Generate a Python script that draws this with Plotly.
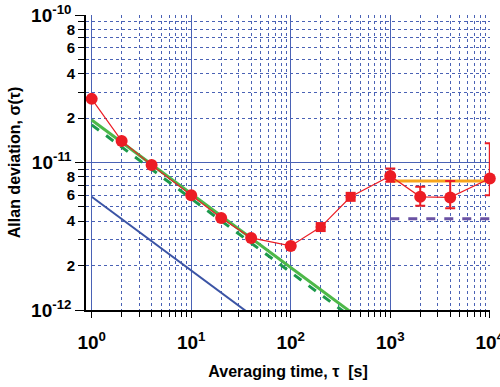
import numpy as np
import plotly.graph_objects as go

# ---- data ----
tau = [1, 2, 4, 10, 20, 40, 100, 200, 400, 1000, 2000, 4000, 10000]
adev = [2.7e-11, 1.40e-11, 9.6e-12, 6.0e-12, 4.2e-12, 3.08e-12, 2.72e-12,
        3.65e-12, 5.85e-12, 8.1e-12, 5.85e-12, 5.8e-12, 7.8e-12]
err_plus = [0, 0, 0, 0, 0, 0, 0, 0, 0, 1.0e-12, 1.0e-12, 1.7e-12, 5.7e-12]
err_minus = [0, 0, 0, 0, 0, 0, 0, 0, 0, 0.7e-12, 0.75e-12, 0.9e-12, 1.8e-12]
symbols = ["circle"] * 7 + ["square", "square"] + ["circle"] * 4
sizes = [12] * 7 + [10, 10] + [12] * 4

green_tau = [1, 400]
green_solid_at1 = 1.94e-11
green_dash_at1 = 1.80e-11
blue_tau = [1, 40]
blue_at1 = 5.86e-12
flat_tau = [1000, 10000]
orange_level = 7.5e-12
purple_level = 4.15e-12

y_decades = [1e-12, 1e-11, 1e-10]
y_decade_text = ["10<sup>-12</sup>", "10<sup>-11</sup>", "10<sup>-10</sup>"]
y_digit_vals = [d * 10.0 ** e for e in (-12, -11) for d in (2, 4, 6, 8)]
y_digit_text = [str(d) for e in (-12, -11) for d in (2, 4, 6, 8)]
y_minor = [d * 10.0 ** e for e in (-12, -11) for d in range(2, 10)]
x_decades = [1, 10, 100, 1000, 10000]
x_decade_text = ["10<sup>0</sup>", "10<sup>1</sup>", "10<sup>2</sup>", "10<sup>3</sup>", "10<sup>4</sup>"]
x_minor = [d * 10.0 ** e for e in range(0, 4) for d in range(2, 10)]

def power_law(t, a):
    return [a / np.sqrt(v) for v in t]

fig = go.Figure()
fig.add_trace(go.Scatter(x=blue_tau, y=power_law(blue_tau, blue_at1), mode="lines",
                         line=dict(color="#3b54a5", width=2), showlegend=False))
fig.add_trace(go.Scatter(x=green_tau, y=power_law(green_tau, green_solid_at1), mode="lines",
                         line=dict(color="#4db848", width=3), showlegend=False))
fig.add_trace(go.Scatter(x=green_tau, y=power_law(green_tau, green_dash_at1), mode="lines",
                         line=dict(color="#1c9a4c", width=3, dash="dash"), showlegend=False))
fig.add_trace(go.Scatter(x=flat_tau, y=[orange_level] * 2, mode="lines",
                         line=dict(color="#f7a51c", width=3), showlegend=False))
fig.add_trace(go.Scatter(x=flat_tau, y=[purple_level] * 2, mode="lines",
                         line=dict(color="#6a52a3", width=3, dash="dash"), showlegend=False))
fig.add_trace(go.Scatter(x=tau, y=adev, mode="lines+markers", cliponaxis=False,
                         line=dict(color="#ec1c24", width=1.2),
                         marker=dict(color="#ec1c24", size=sizes, symbol=symbols,
                                     opacity=1, line=dict(width=0)),
                         error_y=dict(type="data", array=err_plus, arrayminus=err_minus,
                                      color="#ec1c24", thickness=2, width=5),
                         showlegend=False))
# invisible trace to activate the overlay axis carrying the digit labels
fig.add_trace(go.Scatter(x=[1], y=[1e-11], yaxis="y2", mode="markers",
                         marker=dict(opacity=0), showlegend=False, hoverinfo="skip"))

font_family = "Liberation Sans, Arial, sans-serif"
grid_col = "#4a62b5"

fig.update_layout(
    width=500, height=387,
    margin=dict(l=86, r=10, t=15, b=77),
    paper_bgcolor="white", plot_bgcolor="white",
    font=dict(family=font_family, color="black"),
    xaxis=dict(
        type="log", range=[-0.057, 4.002], automargin=False,
        tickmode="array", tickvals=x_decades, ticktext=x_decade_text,
        tickfont=dict(size=19, weight="bold"), ticklabeloverflow="allow",
        showgrid=True, gridcolor=grid_col, gridwidth=1,
        ticks="outside", ticklen=6, tickcolor="black", tickwidth=1.2,
        showline=True, linecolor="black", linewidth=1.5,
        zeroline=False, ticklabelstandoff=8,
        minor=dict(tickmode="array", tickvals=x_minor, showgrid=True,
                   gridcolor=grid_col, griddash="dot", gridwidth=1,
                   ticks="outside", ticklen=5, tickcolor="black", tickwidth=1),
        title=dict(text="Averaging time, \u03c4  [s]", font=dict(size=16, weight="bold"), standoff=14),
    ),
    yaxis=dict(
        type="log", range=[-12, -10], automargin=False,
        tickmode="array", tickvals=y_decades, ticktext=y_decade_text,
        tickfont=dict(size=19, weight="bold"), ticklabeloverflow="allow",
        showgrid=True, gridcolor=grid_col, gridwidth=1,
        ticks="outside", ticklen=9, tickcolor="black", tickwidth=1.2,
        showline=True, linecolor="black", linewidth=1.5,
        zeroline=False,
        ticklabelstandoff=0,
        minor=dict(tickmode="array", tickvals=y_minor, showgrid=True,
                   gridcolor=grid_col, griddash="dot", gridwidth=1,
                   ticks="outside", ticklen=6, tickcolor="black", tickwidth=1),
        title=dict(text="Allan deviation, \u03c3(\u03c4)", font=dict(size=16, weight="bold"), standoff=6),
    ),
    yaxis2=dict(
        type="log", range=[-12, -10], overlaying="y", side="left", anchor="x",
        automargin=False,
        tickmode="array", tickvals=y_digit_vals, ticktext=y_digit_text,
        tickfont=dict(size=15, weight="bold"),
        showgrid=False, zeroline=False, showline=False,
        ticks="outside", ticklen=6, tickcolor="black", tickwidth=1,
        ticklabelstandoff=1,
    ),
)

fig.write_html("out.html", config={"displayModeBar": False},
               post_script="document.body.style.margin='0px';document.body.style.padding='0px';")
